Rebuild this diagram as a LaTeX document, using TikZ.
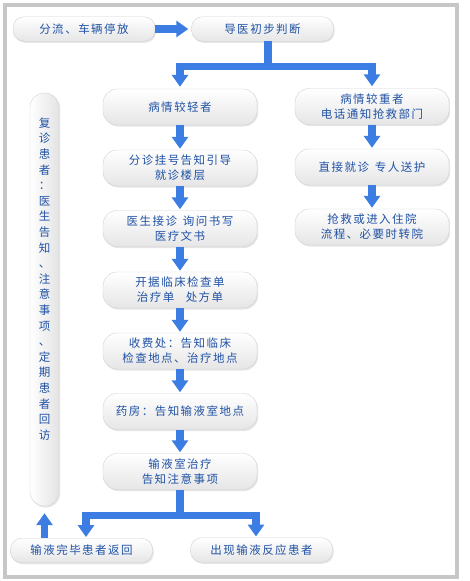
\documentclass[tikz,border=0pt]{standalone}
\usepackage{fontspec}
\newfontfamily\cjk{Noto Sans CJK SC}[LetterSpace=13]
\newfontfamily\cjkv{Noto Sans CJK SC}
\usetikzlibrary{arrows.meta,shadows}
\definecolor{flowblue}{RGB}{59,125,226}
\definecolor{textblue}{RGB}{32,82,165}

\begin{document}
\begin{tikzpicture}[x=1pt,y=-1pt,
  box/.style={draw=gray!35,top color=white,bottom color=gray!20,rounded corners=14pt,
    minimum width=154pt,minimum height=36pt,inner sep=0pt,align=center,text=textblue,
    font=\cjk\fontsize{11.5}{15}\selectfont,
    drop shadow={shadow xshift=1.2pt,shadow yshift=-1.5pt,fill=gray!40}},
  smallbox/.style={box,rounded corners=11pt,minimum width=142pt,minimum height=24.5pt},
  pill/.style={box,left color=white,right color=gray!22,minimum width=29pt,minimum height=413pt},
  vtext/.style={align=center,text=textblue,inner sep=0pt,font=\cjkv\fontsize{11.5}{15.6}\selectfont},
  bar/.style={draw=flowblue,line width=7.5pt},
  fat/.style={bar,-{Triangle[width=16pt,length=12pt]}}]
  \useasboundingbox (0,0) rectangle (470,581);
  \draw[gray!45,line width=4pt] (5,5) rectangle (457,577);

  \node[smallbox] (flow) at (84,29) {分流、车辆停放};
  \node[smallbox] (guide) at (262.5,29) {导医初步判断};
  \node[box] (mild) at (180,107) {病情较轻者};
  \node[box] (severe) at (372,106.5) {病情较重者\\电话通知抢救部门};
  \node[box] (triage) at (180,168) {分诊挂号告知引导\\就诊楼层};
  \node[box] (doctor) at (180,228.5) {医生接诊\hspace{0.5em}询问书写\\医疗文书};
  \node[box] (order) at (180,290) {开据临床检查单\\治疗单\hspace{1em}处方单};
  \node[box] (cashier) at (180,351) {收费处：告知临床\\检查地点、治疗地点};
  \node[box] (pharmacy) at (180,411.5) {药房：告知输液室地点};
  \node[box] (infusion) at (180,471.5) {输液室治疗\\告知注意事项};
  \node[box] (direct) at (372,167) {直接就诊\hspace{0.5em}专人送护};
  \node[box] (rescue) at (372,227) {抢救或进入住院\\流程、必要时转院};
  \node[smallbox] (back) at (81.5,550.5) {输液完毕患者返回};
  \node[smallbox] (reaction) at (261.5,550) {出现输液反应患者};
  \node[pill] (revisit) at (44.5,299.5) {};
  \node[vtext] (revisittext) at (44.5,279) {复\\诊\\患\\者\\：\\医\\生\\告\\知\\、\\注\\意\\事\\项\\、\\定\\期\\患\\者\\回\\访};

  \coordinate (split) at (268,66.5);
  \coordinate (join) at (180,515.5);
  \coordinate (joinl) at (86,515.5);
  \coordinate (joinr) at (256,515.5);

  \draw[fat,shorten >=3pt] (flow) -- (guide);
  \draw[bar] (guide.south -| split) -- (split);
  \draw[fat,shorten >=2pt] (split) -| (mild.north);
  \draw[fat,shorten >=2pt] (split) -| (severe.north);
  \draw[fat,shorten >=1pt] (mild) -- (triage);
  \draw[fat,shorten >=1pt] (triage) -- (doctor);
  \draw[fat,shorten >=1pt] (doctor) -- (order);
  \draw[fat,shorten >=1pt] (order) -- (cashier);
  \draw[fat,shorten >=1pt] (cashier) -- (pharmacy);
  \draw[fat,shorten >=1pt] (pharmacy) -- (infusion);
  \draw[fat,shorten >=1pt] (severe) -- (direct);
  \draw[fat,shorten >=1pt] (direct) -- (rescue);
  \draw[bar] (infusion) -- (join);
  \draw[fat,shorten >=1pt] (join) -| (back.north -| joinl);
  \draw[fat,shorten >=1pt] (join) -| (reaction.north -| joinr);
  \draw[fat,shorten >=7pt] (back.north -| revisit.south) -- (revisit.south);
\end{tikzpicture}
\end{document}
